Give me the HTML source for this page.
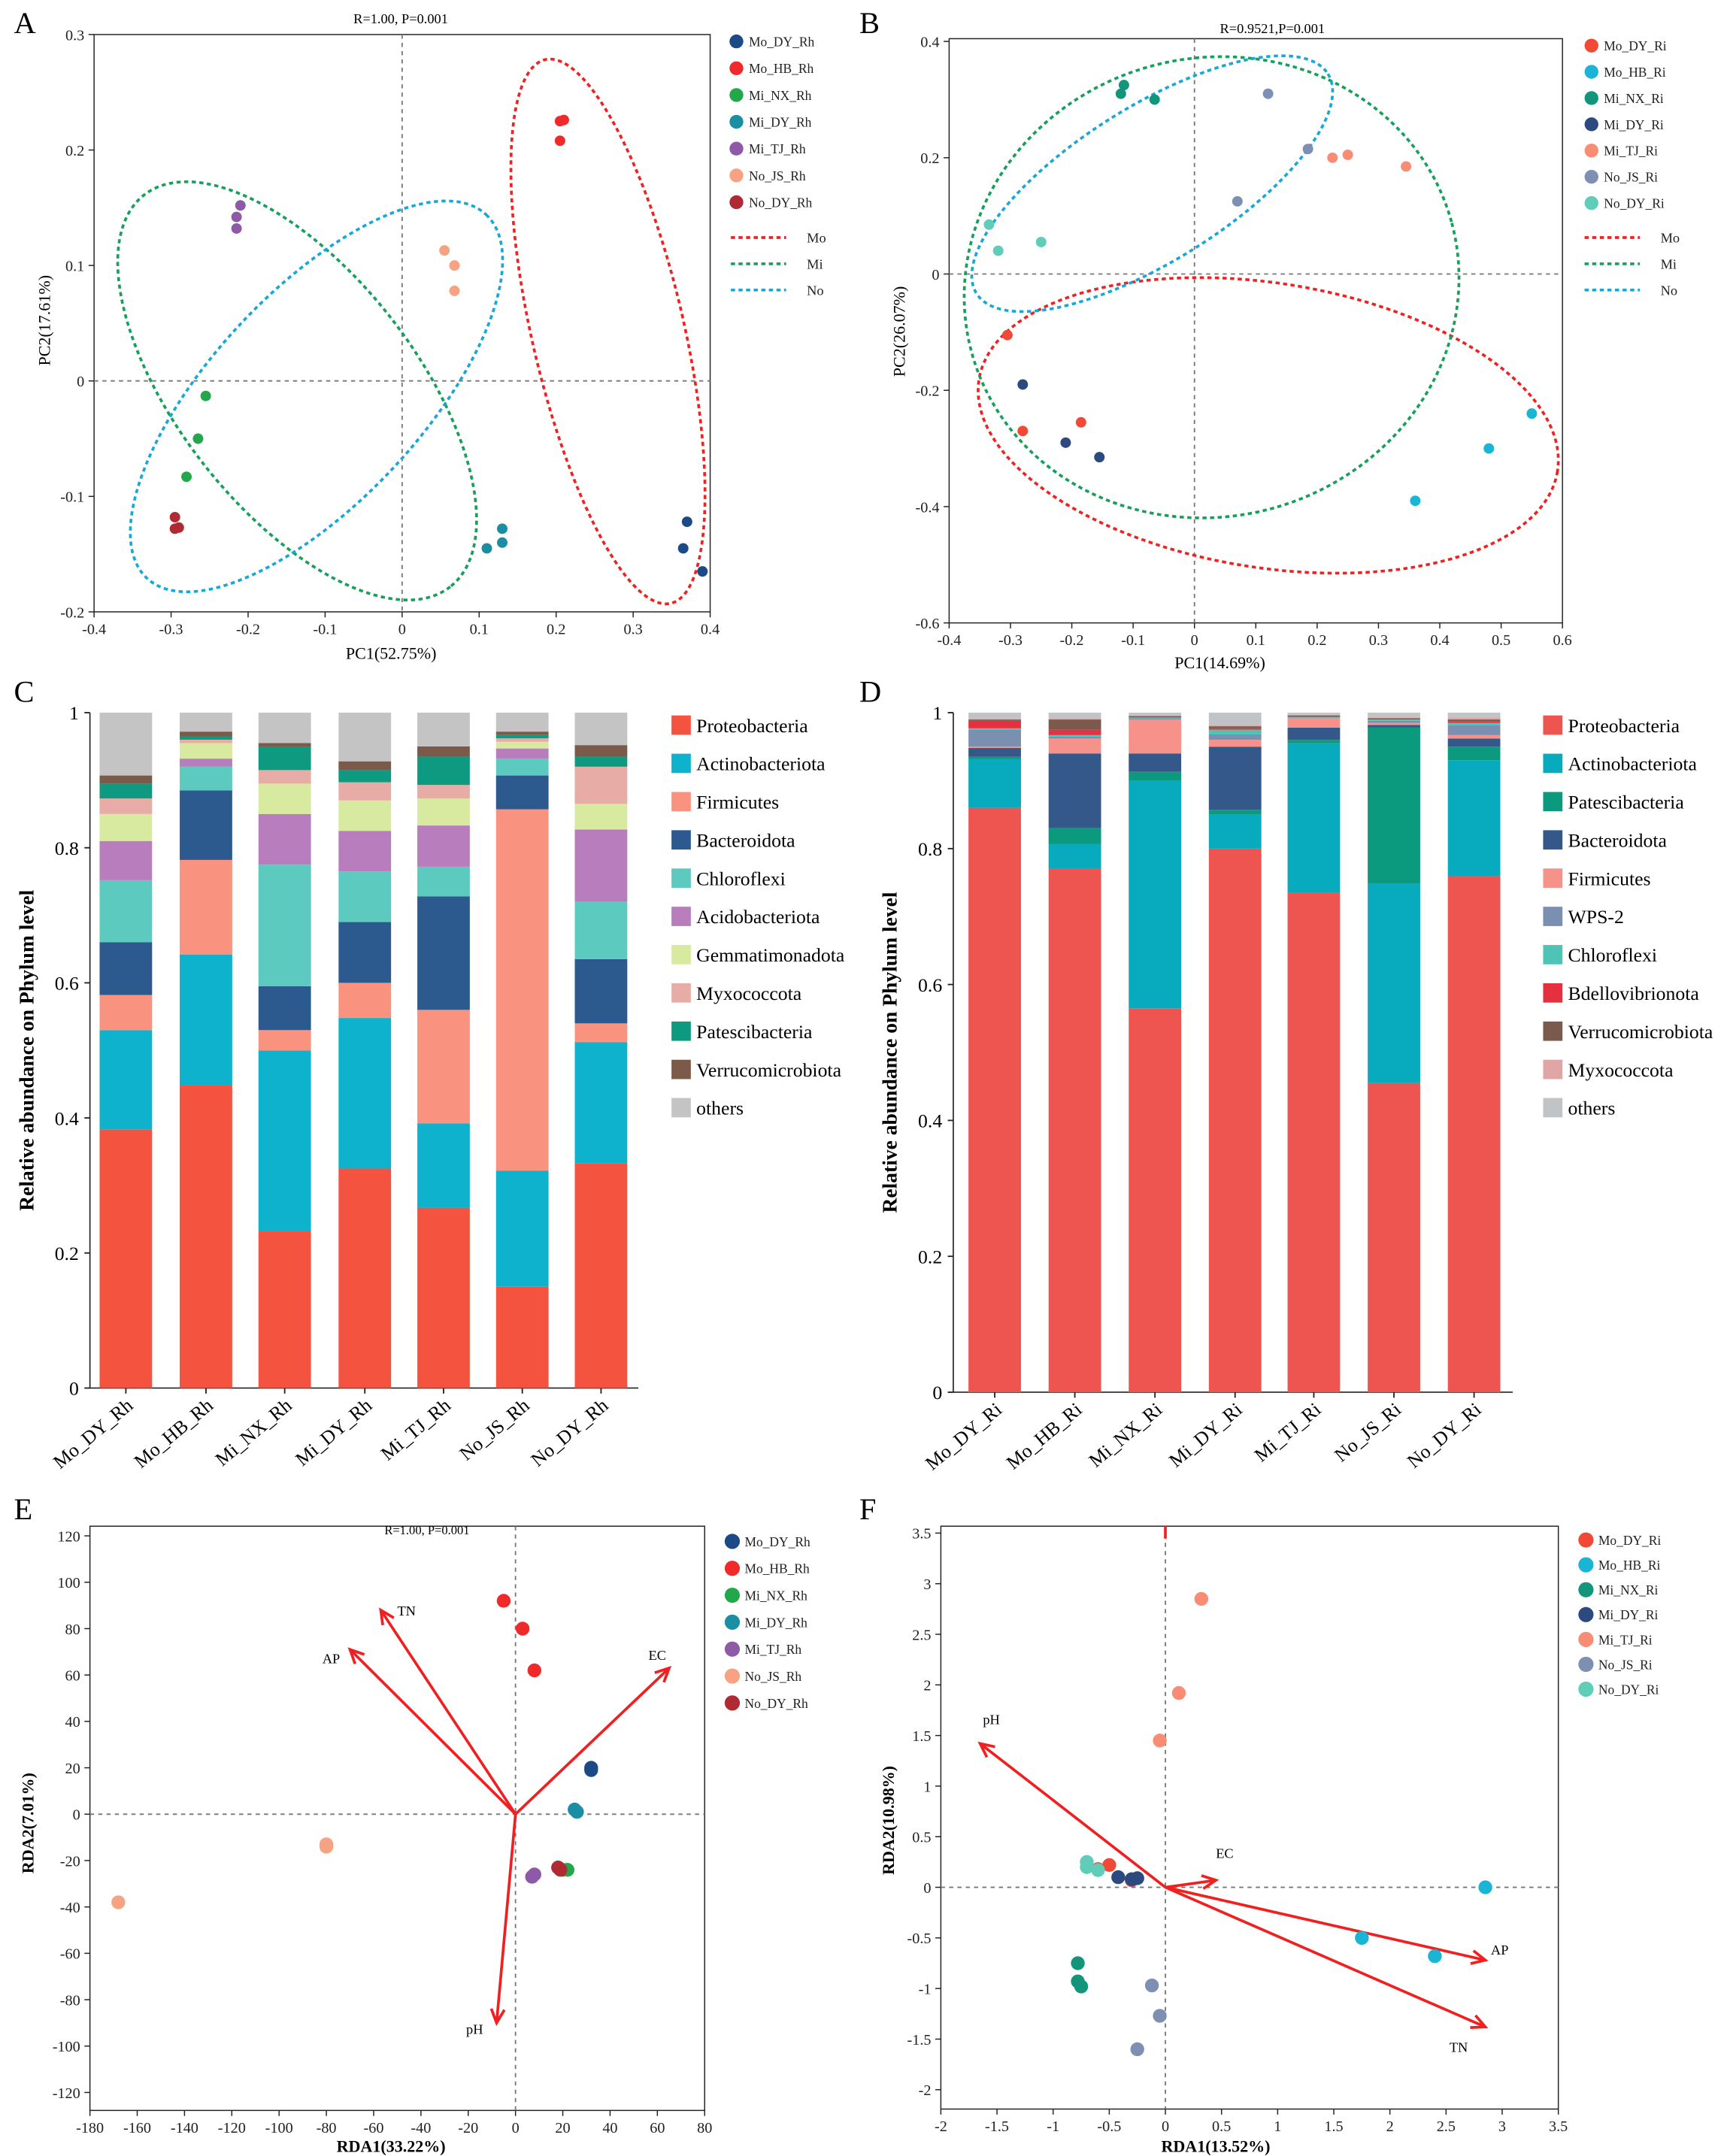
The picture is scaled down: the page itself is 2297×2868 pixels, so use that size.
<!DOCTYPE html>
<html><head><meta charset="utf-8">
<style>
html,body{margin:0;padding:0;background:#fff;}
svg{display:block;font-family:"Liberation Serif",serif;}
</style></head>
<body>
<svg id="chart" width="2297" height="2868" viewBox="0 0 1250 1561" xmlns="http://www.w3.org/2000/svg"></svg>
<script>
// ---------- Panel A data (PCoA rhizosphere) ----------
const groupsA = ["Mo_DY_Rh","Mo_HB_Rh","Mi_NX_Rh","Mi_DY_Rh","Mi_TJ_Rh","No_JS_Rh","No_DY_Rh"];
const colorsA = ["#1c4a86","#f02a2a","#22a84a","#1a8fa4","#8e5aa8","#f7a283","#b02a33"];
const pxA = [[0.37,0.365,0.39],[0.205,0.21,0.205],[-0.255,-0.265,-0.28],[0.11,0.13,0.13],[-0.21,-0.215,-0.215],[0.055,0.068,0.068],[-0.295,-0.295,-0.29]];
const pyA = [[-0.122,-0.145,-0.165],[0.225,0.226,0.208],[-0.013,-0.05,-0.083],[-0.145,-0.14,-0.128],[0.152,0.142,0.132],[0.113,0.1,0.078],[-0.118,-0.128,-0.127]];
const xTicksA = [-0.4,-0.3,-0.2,-0.1,0,0.1,0.2,0.3,0.4];
const yTicksA = [-0.2,-0.1,0,0.1,0.2,0.3];
// ---------- Panel B data (PCoA root) ----------
const groupsB = ["Mo_DY_Ri","Mo_HB_Ri","Mi_NX_Ri","Mi_DY_Ri","Mi_TJ_Ri","No_JS_Ri","No_DY_Ri"];
const colorsB = ["#f04a36","#1ab4d4","#12957a","#2c4a7f","#f88c74","#7d8fb3","#5fcdb8"];
const pxB = [[-0.305,-0.28,-0.185],[0.55,0.48,0.36],[-0.115,-0.12,-0.065],[-0.28,-0.21,-0.155],[0.225,0.25,0.345],[0.12,0.185,0.07],[-0.335,-0.32,-0.25]];
const pyB = [[-0.105,-0.27,-0.255],[-0.24,-0.3,-0.39],[0.325,0.31,0.3],[-0.19,-0.29,-0.315],[0.2,0.205,0.185],[0.31,0.215,0.125],[0.085,0.04,0.055]];
const xTicksB = [-0.4,-0.3,-0.2,-0.1,0,0.1,0.2,0.3,0.4,0.5,0.6];
const yTicksB = [-0.6,-0.4,-0.2,0,0.2,0.4];
// ---------- Panel C data ----------
const samplesC = ["Mo_DY_Rh","Mo_HB_Rh","Mi_NX_Rh","Mi_DY_Rh","Mi_TJ_Rh","No_JS_Rh","No_DY_Rh"];
const phylaC = ["Proteobacteria","Actinobacteriota","Firmicutes","Bacteroidota","Chloroflexi","Acidobacteriota","Gemmatimonadota","Myxococcota","Patescibacteria","Verrucomicrobiota","others"];
const colorsC = ["#f4533f","#0fb2cc","#f9937f","#2d5a8e","#5ccabe","#b77dbd","#d8e9a0","#e7aca5","#0e9a80","#7b5a4a","#c4c4c4"];
const protC = [0.383,0.448,0.232,0.325,0.267,0.15,0.333];
const actC = [0.147,0.194,0.268,0.223,0.125,0.172,0.179];
const firmC = [0.052,0.14,0.03,0.052,0.168,0.535,0.028];
const bactC = [0.078,0.103,0.065,0.09,0.168,0.05,0.095];
const chlorC = [0.092,0.035,0.18,0.075,0.044,0.025,0.085];
const acidoC = [0.058,0.012,0.075,0.06,0.061,0.015,0.107];
const gemmC = [0.04,0.023,0.045,0.045,0.04,0.01,0.038];
const myxoC = [0.023,0.005,0.02,0.027,0.02,0.005,0.055];
const patesC = [0.022,0.005,0.035,0.018,0.042,0.005,0.015];
const verrC = [0.012,0.007,0.005,0.013,0.015,0.005,0.017];
const othersC = [0.093,0.028,0.045,0.072,0.05,0.028,0.048];
const yTicksBar = [0,0.2,0.4,0.6,0.8,1];
// ---------- Panel D data ----------
const samplesD = ["Mo_DY_Ri","Mo_HB_Ri","Mi_NX_Ri","Mi_DY_Ri","Mi_TJ_Ri","No_JS_Ri","No_DY_Ri"];
const phylaD = ["Proteobacteria","Actinobacteriota","Patescibacteria","Bacteroidota","Firmicutes","WPS-2","Chloroflexi","Bdellovibrionota","Verrucomicrobiota","Myxococcota","others"];
const colorsD = ["#ee5550","#08aabe","#0c9a7e","#34588a","#f7928a","#7b8fb0","#4fc3b5","#e53040","#7a5a4c","#e0a6a6","#c0c4c6"];
const protD = [0.86,0.77,0.565,0.8,0.735,0.455,0.76];
const actD = [0.072,0.037,0.335,0.05,0.22,0.293,0.17];
const patesD = [0.003,0.023,0.013,0.007,0.005,0.23,0.02];
const bactD = [0.013,0.11,0.027,0.093,0.018,0.004,0.012];
const firmD = [0.002,0.022,0.05,0.01,0.014,0.003,0.005];
const wpsD = [0.025,0.003,0.002,0.008,0.001,0.003,0.015];
const chlorD = [0.002,0.002,0.001,0.007,0.001,0.002,0.003];
const bdellD = [0.011,0.008,0,0.002,0,0,0.002];
const verrD = [0.002,0.015,0.002,0.003,0.002,0.002,0.003];
const myxoD = [0.001,0.002,0.001,0.002,0.001,0.001,0.003];
const othersD = [0.009,0.008,0.004,0.018,0.003,0.007,0.007];
// ---------- Panel E data (RDA rhizosphere) ----------
const pxE = [[32,32],[-5,3,8],[22,20],[25,26],[7,8],[-80,-80,-168],[18,19]];
const pyE = [[20,19],[92,80,62],[-24,-24],[2,1],[-27,-26],[-13,-14,-38],[-23,-24]];
const envE = ["TN","AP","EC","pH"];
const envXE = [-57,-70,65,-8];
const envYE = [88,71,63,-90];
const xTicksE = [-180,-160,-140,-120,-100,-80,-60,-40,-20,0,20,40,60,80];
const yTicksE = [-120,-100,-80,-60,-40,-20,0,20,40,60,80,100,120];
// ---------- Panel F data (RDA root) ----------
const pxF = [[-0.6,-0.5,-0.3],[2.85,2.4,1.75],[-0.78,-0.78,-0.75],[-0.42,-0.3,-0.25],[0.32,0.12,-0.05],[-0.12,-0.05,-0.25],[-0.7,-0.7,-0.6]];
const pyF = [[0.18,0.22,0.07],[0,-0.68,-0.5],[-0.75,-0.93,-0.98],[0.1,0.08,0.09],[2.85,1.92,1.45],[-0.97,-1.27,-1.6],[0.25,0.2,0.17]];
const envF = ["pH","EC","AP","TN"];
const envXF = [-1.65,0.45,2.85,2.85];
const envYF = [1.42,0.07,-0.72,-1.38];
const xTicksF = [-2,-1.5,-1,-0.5,0,0.5,1,1.5,2,2.5,3,3.5];
const yTicksF = [-2,-1.5,-1,-0.5,0,0.5,1,1.5,2,2.5,3,3.5];

const NS = "http://www.w3.org/2000/svg";
const svg = document.getElementById('chart');
function mk(tag, attrs, parent){const e=document.createElementNS(NS,tag);for(const k in attrs)e.setAttribute(k,attrs[k]);(parent||svg).appendChild(e);return e;}
function txt(s, attrs, parent){const e=mk('text',attrs,parent);e.textContent=s;return e;}
function lin(a,b,c,d){return v=>c+(v-a)*(d-c)/(b-a);}

function panelLetter(s,x,y){
  const t=txt(s,{x:x,y:y,'font-size':22});
  
  
}

function axesFrame(g,name,L,T,R,B,X,Y,xt,yt,fmtX,fmtY,fs,zeroLines){
  const box=mk('rect',{x:L,y:T,width:R-L,height:B-T,fill:'none',stroke:'#222','stroke-width':0.8},g);
  
  
  xt.forEach(v=>{
    const x=X(v);
    mk('line',{x1:x,y1:B,x2:x,y2:B+4,stroke:'#222','stroke-width':0.8},g);
    const t=txt(fmtX(v),{x:x,y:B+16,'font-size':fs,'text-anchor':'middle',fill:'#222'},g);
    
    
  });
  yt.forEach(v=>{
    const y=Y(v);
    mk('line',{x1:L-4,y1:y,x2:L,y2:y,stroke:'#222','stroke-width':0.8},g);
    const t=txt(fmtY(v),{x:L-7,y:y+4,'font-size':fs,'text-anchor':'end',fill:'#222'},g);
    
    
  });
  if(zeroLines){
    const zx=mk('line',{x1:X(0),y1:T,x2:X(0),y2:B,stroke:'#777','stroke-dasharray':'3,3','stroke-width':1},g);
    
    
    const zy=mk('line',{x1:L,y1:Y(0),x2:R,y2:Y(0),stroke:'#777','stroke-dasharray':'3,3','stroke-width':1},g);
    
    
  }
}
function points(g,name,X,Y,px,py,cols,groups,r){
  px.forEach((arr,i)=>arr.forEach((v,j)=>{
    const c=mk('circle',{cx:X(v),cy:Y(py[i][j]),r:r,fill:cols[i]},g);
    
    
  }));
}
function legendPts(g,name,x,y0,step,groups,cols,fs,r){
  groups.forEach((s,i)=>{
    const y=y0+i*step;
    const c=mk('circle',{cx:x,cy:y,r:r,fill:cols[i]},g);
    
    
    const t=txt(s,{x:x+9,y:y+3.5,'font-size':fs,fill:'#222'},g);
    
    
  });
}
function legendLines(g,name,x,y0,step,labels,cols){
  labels.forEach((s,i)=>{
    const y=y0+i*step;
    const l=mk('line',{x1:x,y1:y,x2:x+40,y2:y,stroke:cols[i],'stroke-width':2,'stroke-dasharray':'3,2.5'},g);
    
    
    const t=txt(s,{x:x+55,y:y+3.5,'font-size':10,fill:'#222'},g);
    
    
  });
}
function ell(g,name,cx,cy,rx,ry,rot,col){
  const e=mk('ellipse',{cx:cx,cy:cy,rx:rx,ry:ry,transform:`rotate(${rot} ${cx} ${cy})`,fill:'none',stroke:col,'stroke-width':2,'stroke-dasharray':'3,2.5'},g);
  
  
}
const f1=v=>(Math.round(v*10)/10).toString();

// ===== Panel A =====
panelLetter('A',10,24);
{
  const g=mk('g',{});
  
  
  const X=lin(-0.4,0.4,68,514), Y=lin(0.3,-0.2,25,443);
  axesFrame(g,'a',68,25,514,443,X,Y,xTicksA,yTicksA,f1,f1,11,true);
  ell(g,'a-ellipse-mo',440,240,55,202,-13,'#ee2222');
  ell(g,'a-ellipse-mi',215,283,180,86,52,'#16a05a');
  ell(g,'a-ellipse-no',229,287,180,76,-47,'#18a8d8');
  points(g,'a',X,Y,pxA,pyA,colorsA,groupsA,3.8);
  legendPts(g,'a',533,30,19.4,groupsA,colorsA,9.5,5);
  legendLines(g,'a',529,172,19,["Mo","Mi","No"],["#ee2222","#16a05a","#18a8d8"]);
  const h=txt('R=1.00, P=0.001',{x:290,y:17,'font-size':10,'text-anchor':'middle'},g);
  
  const xt=txt('PC1(52.75%)',{x:283,y:477,'font-size':12,'text-anchor':'middle'},g);
  
  const yt=txt('PC2(17.61%)',{x:0,y:0,'font-size':12,'text-anchor':'middle',transform:'translate(36,232) rotate(-90)'},g);
  
}
// ===== Panel B =====
panelLetter('B',622,24);
{
  const g=mk('g',{});
  
  
  const X=lin(-0.4,0.6,687,1131), Y=lin(0.4,-0.6,30,451);
  axesFrame(g,'b',687,28,1131,451,X,Y,xTicksB,yTicksB,f1,f1,11,true);
  ell(g,'b-ellipse-mo',918,308,212,103,9,'#ee2222');
  ell(g,'b-ellipse-mi',877,208,180,166,-15,'#16a05a');
  ell(g,'b-ellipse-no',834,133,150,56,-32,'#18a8d8');
  points(g,'b',X,Y,pxB,pyB,colorsB,groupsB,3.8);
  legendPts(g,'b',1152,33,19,groupsB,colorsB,9.5,5);
  legendLines(g,'b',1147,172,19,["Mo","Mi","No"],["#ee2222","#16a05a","#18a8d8"]);
  const h=txt('R=0.9521,P=0.001',{x:921,y:24,'font-size':10,'text-anchor':'middle'},g);
  
  const xt=txt('PC1(14.69%)',{x:883,y:484,'font-size':12,'text-anchor':'middle'},g);
  
  const yt=txt('PC2(26.07%)',{x:0,y:0,'font-size':12,'text-anchor':'middle',transform:'translate(655,240) rotate(-90)'},g);
  
}
// ===== Bars =====
function barPanel(name,L,R,T,B,centers,samples,series,phyla,cols,legX){
  const g=mk('g',{});
  
  
  const Y=lin(0,1,B,T);
  const ax=mk('line',{x1:L,y1:T,x2:L,y2:B,stroke:'#222','stroke-width':0.9},g);
  
  const bx=mk('line',{x1:L,y1:B,x2:R,y2:B,stroke:'#222','stroke-width':0.9},g);
  
  yTicksBar.forEach(v=>{
    mk('line',{x1:L-4,y1:Y(v),x2:L,y2:Y(v),stroke:'#222'},g);
    const t=txt(v===0?'0':v===1?'1':v.toFixed(1),{x:L-8,y:Y(v)+5,'font-size':14,'text-anchor':'end'},g);
    
  });
  samples.forEach((s,i)=>{
    let c=0;
    series.forEach((arr,k)=>{
      const v=arr[i];
      const r=mk('rect',{x:centers[i]-19,y:Y(c+v),width:38,height:Math.max(0,Y(c)-Y(c+v)),fill:cols[k]},g);
      
      
      c+=v;
    });
    mk('line',{x1:centers[i],y1:B,x2:centers[i],y2:B+4,stroke:'#222'},g);
    const t=txt(s,{x:0,y:0,'font-size':14,'text-anchor':'end',transform:`translate(${centers[i]+6},${B+14}) rotate(-40)`},g);
    
  });
  phyla.forEach((p,k)=>{
    const y=525+k*27.7;
    const r=mk('rect',{x:legX,y:y-7,width:14,height:14,fill:cols[k]},g);
    
    const t=txt(p,{x:legX+18,y:y+5,'font-size':14},g);
    
  });
  const yt=txt('Relative abundance on Phylum level',{x:0,y:0,'font-size':15,'font-weight':'bold','text-anchor':'middle',transform:`translate(${L-41},${(T+B)/2}) rotate(-90)`},g);
  
}
panelLetter('C',10,508);
barPanel('c',65,462,516,1005,[91,149,206,264,321,378,435],samplesC,[protC,actC,firmC,bactC,chlorC,acidoC,gemmC,myxoC,patesC,verrC,othersC],phylaC,colorsC,486);
panelLetter('D',622,508);
barPanel('d',690,1095,516,1008,[720,778,836,894,951,1009,1067],samplesD,[protD,actD,patesD,bactD,firmD,wpsD,chlorD,bdellD,verrD,myxoD,othersD],phylaD,colorsD,1117);

// ===== RDA panels =====
function arrows(g,name,X,Y,ex,ey,labels,off){
  ex.forEach((v,i)=>{
    const x2=X(v),y2=Y(ey[i]),x1=X(0),y1=Y(0);
    const a=Math.atan2(y2-y1,x2-x1),h=11;
    const l=mk('line',{x1:x1,y1:y1,x2:x2,y2:y2,stroke:'#f02020','stroke-width':2},g);
    
    
    const p=`M${x2-h*Math.cos(a-0.45)},${y2-h*Math.sin(a-0.45)} L${x2},${y2} L${x2-h*Math.cos(a+0.45)},${y2-h*Math.sin(a+0.45)}`;
    mk('path',{d:p,fill:'none',stroke:'#f02020','stroke-width':2},g);
    const t=txt(labels[i],{x:x2+off[i][0],y:y2+off[i][1],'font-size':10},g);
    
    
  });
}
panelLetter('E',10,1100);
{
  const g=mk('g',{});
  
  const X=lin(-180,80,65,510), Y=lin(120,-120,1112,1515);
  axesFrame(g,'e',65,1105,510,1528,X,Y,xTicksE,yTicksE,v=>String(v),v=>String(v),11,true);
  arrows(g,'e',X,Y,envXE,envYE,envE,[[12,4],[-20,10],[-15,-6],[-22,8]]);
  points(g,'e',X,Y,pxE,pyE,colorsA,groupsA,5);
  legendPts(g,'e',530,1116,19.5,groupsA,colorsA,9.5,5.5);
  const h=txt('R=1.00, P=0.001',{x:309,y:1111,'font-size':9,'text-anchor':'middle'},g);
  
  const xt=txt('RDA1(33.22%)',{x:283,y:1558,'font-size':12,'font-weight':'bold','text-anchor':'middle'},g);
  
  const yt=txt('RDA2(7.01%)',{x:0,y:0,'font-size':12,'font-weight':'bold','text-anchor':'middle',transform:'translate(24,1320) rotate(-90)'},g);
  
}
panelLetter('F',622,1100);
{
  const g=mk('g',{});
  
  const X=lin(-2,3.5,681,1128), Y=lin(3.5,-2,1110,1513);
  axesFrame(g,'f',681,1105,1128,1527,X,Y,xTicksF,yTicksF,v=>String(v),v=>String(v),11,true);
  mk('line',{x1:X(0),y1:1105,x2:X(0),y2:1114,stroke:'#f02020','stroke-width':2},g);
  arrows(g,'f',X,Y,envXF,envYF,envF,[[2,-14],[0,-16],[4,-4],[-26,18]]);
  points(g,'f',X,Y,pxF,pyF,colorsB,groupsB,5);
  legendPts(g,'f',1148,1115,18,groupsB,colorsB,9.5,5.5);
  const xt=txt('RDA1(13.52%)',{x:880,y:1558,'font-size':12,'font-weight':'bold','text-anchor':'middle'},g);
  
  const yt=txt('RDA2(10.98%)',{x:0,y:0,'font-size':12,'font-weight':'bold','text-anchor':'middle',transform:'translate(647,1318) rotate(-90)'},g);
  
}
</script>
</body></html>
